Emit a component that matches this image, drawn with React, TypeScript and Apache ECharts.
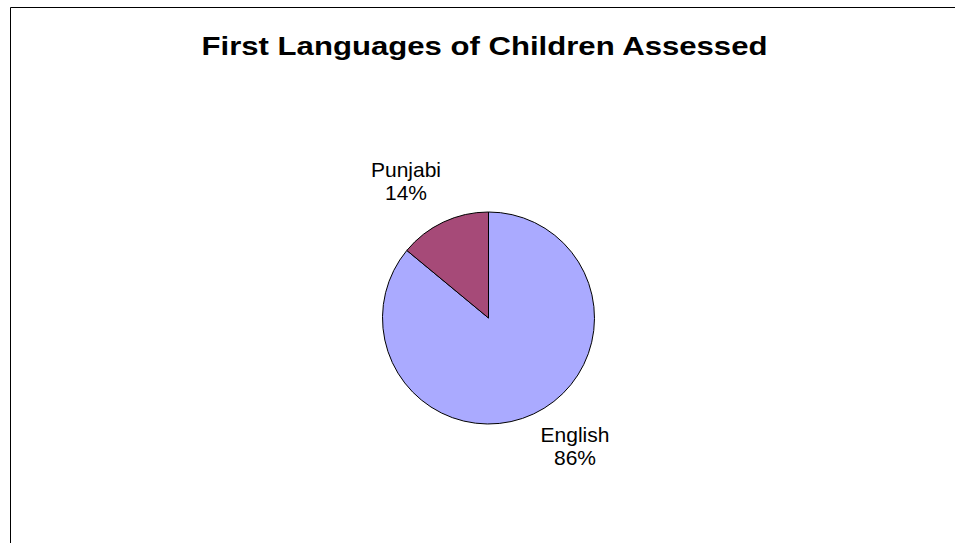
import React, { useEffect, useRef } from "react";
import * as echarts from "echarts";

const titleText = "First Languages of Children Assessed";
const languages = ["English", "Punjabi"];
const shares = [86, 14];
const sliceColors = ["#AAAAFF", "#A64A78"];
const labelPositions = [
  [575, 446],
  [406, 181],
];

const FONT = "Arial, 'Liberation Sans', sans-serif";

export default function App() {
  const ref = useRef<HTMLDivElement>(null);
  useEffect(() => {
    if (!ref.current) return;
    const chart = echarts.init(ref.current, undefined, { renderer: "svg" });
    chart.setOption({
      animation: false,
      backgroundColor: "#ffffff",
      graphic: [
        {
          type: "rect",
          shape: { x: 10.5, y: 7.5, width: 1000, height: 1000 },
          style: { fill: "none", stroke: "#000", lineWidth: 1 },
          silent: true,
        },
        {
          type: "text",
          x: 484.5,
          y: 46.5,
          scaleX: 1.245,
          silent: true,
          style: {
            text: titleText,
            align: "center",
            verticalAlign: "middle",
            fontFamily: FONT,
            fontSize: 25,
            fontWeight: "bold",
            fill: "#000",
          },
        },
      ],
      series: [
        {
          type: "pie",
          center: [488.5, 318],
          radius: 106,
          startAngle: 90,
          clockwise: true,
          percentPrecision: 0,
          data: languages.map((name, i) => ({
            name,
            value: shares[i],
            itemStyle: { color: sliceColors[i] },
          })),
          itemStyle: { borderColor: "#000", borderWidth: 1 },
          emphasis: { disabled: true },
          label: {
            show: true,
            position: "outside",
            formatter: "{b}\n{d}%",
            fontFamily: FONT,
            fontSize: 21,
            lineHeight: 23,
            color: "#000",
            align: "center",
          },
          labelLine: { show: false },
          labelLayout: (params: any) => {
            const p = labelPositions[params.dataIndex];
            return { x: p[0], y: p[1], align: "center", verticalAlign: "middle" };
          },
        },
      ],
    });
    return () => chart.dispose();
  }, []);
  return (
    <div
      ref={ref}
      style={{ position: "absolute", left: 0, top: 0, width: 955, height: 543 }}
    />
  );
}
